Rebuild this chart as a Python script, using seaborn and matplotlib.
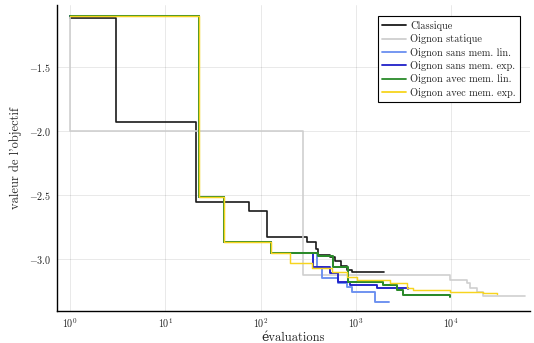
import numpy as np
import pandas as pd
import matplotlib
matplotlib.use("Agg")
import matplotlib.pyplot as plt
import seaborn as sns

# Best objective value found so far, recorded at the evaluation where it improved
classique_x = [1, 3, 21, 75, 117, 310, 385, 400, 540, 600, 690, 810, 910, 1970]
classique_y = [-1.112, -1.927, -2.55, -2.623, -2.828, -2.866, -2.92, -2.966, -2.985,
               -3.01, -3.05, -3.08, -3.097, -3.099]

statique_x = [1, 1, 276, 9700, 14600, 15700, 18600, 21500, 59000]
statique_y = [-1.097, -2.0, -3.123, -3.16, -3.186, -3.225, -3.256, -3.287, -3.287]

sans_lin_x = [1, 22.6, 41, 128, 388, 437, 653, 800, 902, 1590, 2200]
sans_lin_y = [-1.097, -2.51, -2.867, -2.95, -3.058, -3.148, -3.188, -3.214, -3.253,
              -3.331, -3.331]

sans_exp_x = [1, 22.6, 41, 128, 357, 535, 653, 867, 1650, 3500]
sans_exp_y = [-1.097, -2.51, -2.867, -2.95, -3.058, -3.109, -3.175, -3.2, -3.227, -3.234]

avec_lin_x = [1, 22.6, 41, 128, 404, 580, 833, 1940, 2680, 3140, 9800]
avec_lin_y = [-1.097, -2.51, -2.867, -2.95, -2.974, -3.058, -3.175, -3.2, -3.24,
              -3.279, -3.292]

avec_exp_x = [1, 22.6, 41, 128, 204, 344, 557, 800, 1020, 2280, 3410, 4000, 9710,
              21700, 30000]
avec_exp_y = [-1.097, -2.51, -2.867, -2.95, -3.031, -3.066, -3.097, -3.136, -3.162,
              -3.188, -3.227, -3.24, -3.253, -3.266, -3.27]

methods = ["Classique", "Oignon statique", "Oignon sans mem. lin.",
           "Oignon sans mem. exp.", "Oignon avec mem. lin.", "Oignon avec mem. exp."]
series = [(classique_x, classique_y), (statique_x, statique_y),
          (sans_lin_x, sans_lin_y), (sans_exp_x, sans_exp_y),
          (avec_lin_x, avec_lin_y), (avec_exp_x, avec_exp_y)]
colors = ["#1a1a1a", "#cfcfcf", "#6a8ff0", "#2020c8", "#2a8a2a", "#f7d41e"]
widths = [1.2, 1.2, 1.35, 1.35, 1.45, 1.05]

yticks = [-1.5, -2.0, -2.5, -3.0]

frames = []
for name, (xs, ys) in zip(methods, series):
    frames.append(pd.DataFrame({"evals": xs, "value": ys, "method": name}))
df = pd.concat(frames, ignore_index=True)

sns.set_style("white")
plt.rcParams["font.family"] = ["cmr10", "DejaVu Serif"]
plt.rcParams["mathtext.fontset"] = "cm"
plt.rcParams["axes.formatter.use_mathtext"] = True
plt.rcParams["axes.unicode_minus"] = True

fig = plt.figure(figsize=(5.34, 3.43), dpi=100)
ax = fig.add_axes([57 / 534, 1 - 311 / 343, (530 - 57) / 534, (311 - 5) / 343])

sns.lineplot(data=df, x="evals", y="value", hue="method", hue_order=methods,
             palette=dict(zip(methods, colors)), estimator=None, sort=False,
             drawstyle="steps-post", linewidth=1.2, ax=ax)
for line, lw in zip(ax.get_lines(), widths):
    line.set_linewidth(lw)

ax.set_xscale("log")
ax.set_xlim(0.73, 67000)
ax.set_ylim(-3.404, -1.013)
ax.set_yticks(yticks)
ax.set_yticklabels([f"${v:.1f}$" for v in yticks])
ax.xaxis.set_minor_locator(matplotlib.ticker.NullLocator())

ax.grid(True, color="black", alpha=0.1, linewidth=0.6)
for side in ["top", "right"]:
    ax.spines[side].set_visible(False)
for side in ["left", "bottom"]:
    ax.spines[side].set_color("black")
    ax.spines[side].set_linewidth(1.0)
ax.tick_params(direction="in", length=3, width=0.6, color="#444444",
               labelsize=7.2, labelcolor="#222222", pad=4)

ax.set_xlabel("évaluations", fontsize=9, labelpad=1)
ax.set_ylabel("valeur de l'objectif", fontsize=9, labelpad=5)

handles, labels = ax.get_legend_handles_labels()
for h in handles:
    h.set_linewidth(1.3)
leg = ax.legend(handles, labels, loc="upper right", fontsize=7.4, frameon=True,
                fancybox=False, edgecolor="black", framealpha=1,
                bbox_to_anchor=(0.99, 0.98), handlelength=2.3,
                handletextpad=0.4, borderpad=0.45, labelspacing=0.33)
leg.get_frame().set_linewidth(0.8)

fig.savefig("out.png", dpi=100)
